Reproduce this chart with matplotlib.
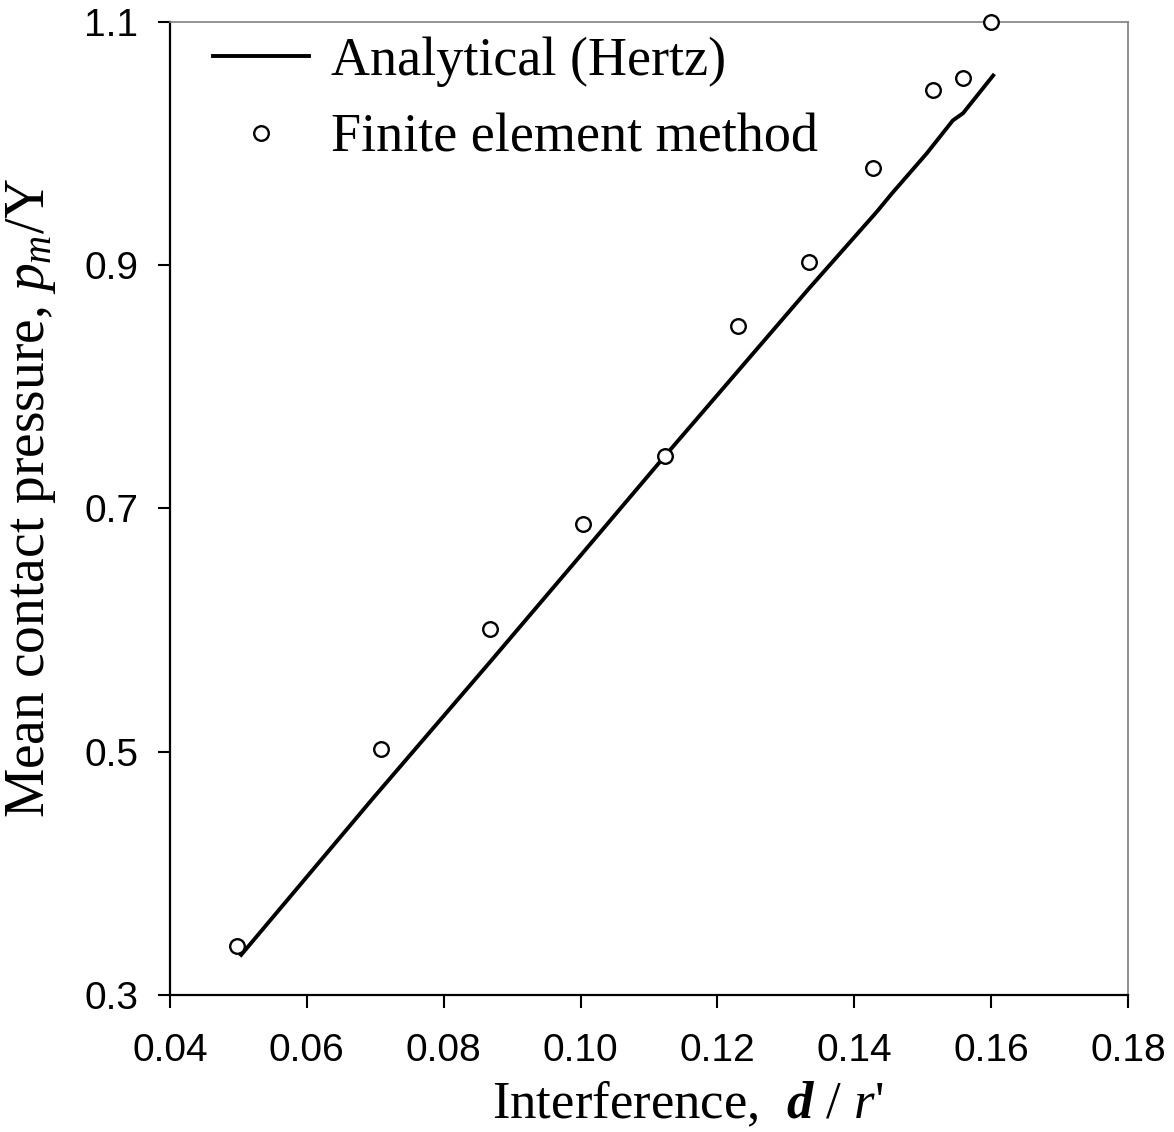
import matplotlib
matplotlib.use("Agg")
import matplotlib.pyplot as plt

plt.rcParams['font.family'] = 'Liberation Sans'
plt.rcParams['mathtext.fontset'] = 'custom'
plt.rcParams['mathtext.rm'] = 'Liberation Serif'
plt.rcParams['mathtext.it'] = 'Liberation Serif:italic'
plt.rcParams['mathtext.bf'] = 'Liberation Serif:bold:italic'

# Analytical (Hertz) curve
hertz_x = [0.0504, 0.0697, 0.0868, 0.1004, 0.1123, 0.1175, 0.1334,
           0.1433, 0.1455, 0.1506, 0.1544, 0.1559, 0.1603]
hertz_y = [0.333, 0.462, 0.574, 0.664, 0.743, 0.777, 0.881,
           0.944, 0.959, 0.992, 1.019, 1.025, 1.056]

# Finite element results
fem_x = [0.0498, 0.0708, 0.0868, 0.1004, 0.1123, 0.1230, 0.1334,
         0.1427, 0.1515, 0.1559, 0.1600]
fem_y = [0.340, 0.502, 0.601, 0.687, 0.743, 0.850, 0.903,
         0.980, 1.044, 1.054, 1.100]

x_ticks = [0.04, 0.06, 0.08, 0.10, 0.12, 0.14, 0.16, 0.18]
x_tick_labels = ['0.04', '0.06', '0.08', '0.10', '0.12', '0.14', '0.16', '0.18']
y_ticks = [0.3, 0.5, 0.7, 0.9, 1.1]
y_tick_labels = ['0.3', '0.5', '0.7', '0.9', '1.1']

fig = plt.figure(figsize=(11.74, 11.32), dpi=100)
ax = fig.add_axes([0.1448, 0.121, 0.816, 0.8596])

ax.plot(hertz_x, hertz_y, color='black', lw=2.8, label='Analytical (Hertz)',
        solid_joinstyle='round')
ax.plot(fem_x, fem_y, linestyle='none', marker='o', markersize=10.5,
        markerfacecolor='white', markeredgecolor='black', markeredgewidth=1.7,
        label='Finite element method', clip_on=False, zorder=5)

ax.set_xlim(0.04, 0.18)
ax.set_ylim(0.3, 1.1)
ax.set_xticks(x_ticks)
ax.set_xticklabels(x_tick_labels)
ax.set_yticks(y_ticks)
ax.set_yticklabels(y_tick_labels)

ax.tick_params(direction='out', length=9, width=1.5, color='black',
               labelsize=28)
ax.tick_params(axis='x', pad=18)
ax.tick_params(axis='y', pad=14)

for side in ('left', 'bottom'):
    ax.spines[side].set_color('black')
    ax.spines[side].set_linewidth(1.6)
for side in ('top', 'right'):
    ax.spines[side].set_color('#808080')
    ax.spines[side].set_linewidth(1.2)

ax.set_xlabel(r"Interference,  $\mathbf{d}$ / $\mathit{r}$'",
              fontfamily='Liberation Serif', fontsize=38)
ax.xaxis.set_label_coords(0.54, -0.0865)
ax.set_ylabel(r"Mean contact pressure, $\mathit{p_m}$/Y",
              fontfamily='Liberation Serif', fontsize=40)
ax.yaxis.set_label_coords(-0.117, 0.511)

leg = ax.legend(loc='upper left', frameon=False,
                prop={'family': 'Liberation Serif', 'size': 39},
                handlelength=1.78, handletextpad=0.4, labelspacing=0.48,
                borderaxespad=0.0, bbox_to_anchor=(0.022, 1.007))

fig.savefig('out.png', dpi=100, facecolor='white')
